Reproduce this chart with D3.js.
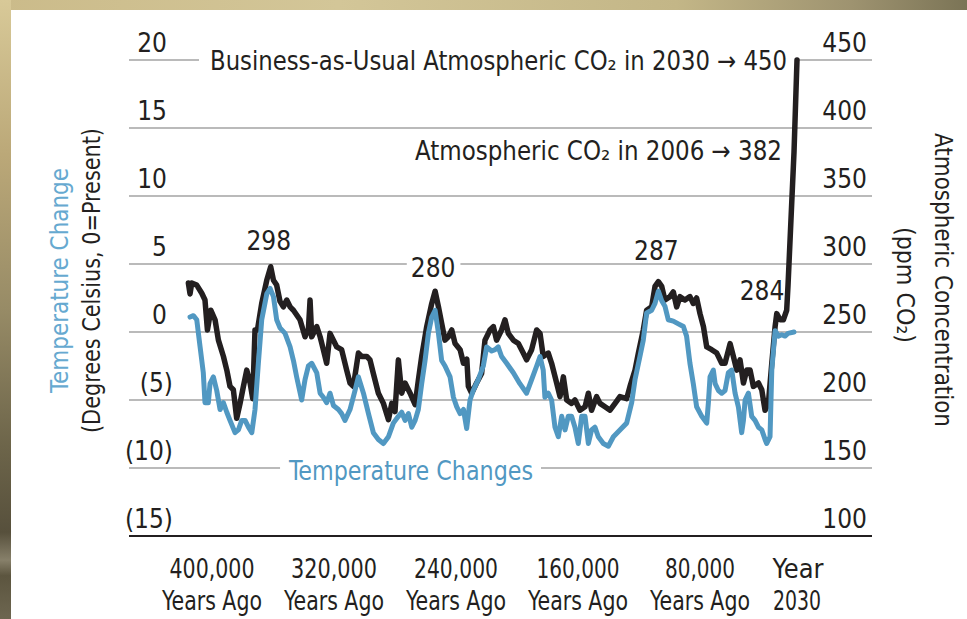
<!DOCTYPE html>
<html>
<head>
<meta charset="utf-8">
<script src="https://cdn.jsdelivr.net/npm/d3@7"></script>
<style>
  html, body { margin: 0; padding: 0; background: #fff; }
  svg { display: block; }
  text { font-family: "Liberation Sans Narrow", "Arial Narrow", "DejaVu Sans Condensed", sans-serif; fill: #231f20; }
</style>
</head>
<body>
<svg id="chart" width="967" height="619"></svg>
<script>
// ---- Data -------------------------------------------------------------
// Time is in thousands of years before 2006 (negative = future).
const timeTicks = [400, 320, 240, 160, 80, -0.024];
const timeTickLabels = [
  ["400,000", "Years Ago"], ["320,000", "Years Ago"], ["240,000", "Years Ago"],
  ["160,000", "Years Ago"], ["80,000", "Years Ago"], ["Year", "2030"]
];
const tempTicks = [20, 15, 10, 5, 0, -5, -10, -15];
const co2Ticks = [450, 400, 350, 300, 250, 200, 150, 100];

// Atmospheric CO2 (ppm): [kyr before present, ppm]
const co2Record = [
  [415.5,286],[414.4,278],[413.3,286],[410.0,284.5],[406.7,278.5],[404.6,273.5],[403.0,251.5],
  [400.8,266],[398.0,259],[395.8,244],[392.5,232],[390.3,222],[388.2,210],[386.0,207.5],
  [383.8,186.5],[381.6,197.5],[379.4,210],[377.2,222],[375.0,212.5],[373.3,201],[371.8,251.5],
  [370.2,251.5],[367.4,271],[364.1,288],[361.5,298],[359.7,288],[357.6,284.5],[355.4,272.5],
  [353.2,268.5],[351.0,273.5],[348.8,268.5],[346.6,266],[342.3,259],[339.0,246.5],[336.8,251.5],
  [335.7,273.5],[334.6,246.5],[331.3,254],[329.1,246.5],[327.0,237],[324.8,227],[322.6,249],
  [320.4,244],[318.2,239],[315.0,237],[311.7,222],[309.5,212.5],[307.3,210],[304.0,234.5],
  [301.8,232],[298.5,232],[296.4,229.5],[294.2,219.5],[290.9,205],[287.6,197.5],[284.3,185.5],
  [282.1,197.5],[280.0,191.5],[277.8,229.5],[275.6,205],[273.4,212.5],[270.1,205],[266.8,196.5],
  [264.7,214.5],[262.5,232],[259.2,254],[255.9,271],[253.7,280],[251.5,268.5],[249.4,256.5],
  [247.2,244],[245.0,246.5],[242.8,251.5],[240.6,241.5],[237.3,237],[235.1,227],[232.9,230],
  [231.9,210],[229.7,205],[226.5,212.5],[223.2,219.5],[221.0,244],[217.7,251.5],[215.5,254],
  [213.4,244],[210.1,251.5],[207.9,259],[205.7,249],[202.4,244],[199.1,241.5],[195.9,234.5],
  [193.7,229.5],[190.4,237],[187.1,251.5],[184.9,249],[182.8,232],[179.5,234.5],[177.3,227],
  [174.0,212.5],[171.8,202.5],[169.6,217],[167.4,200],[164.2,197.5],[162.0,200],[158.7,192.5],
  [155.4,195],[153.2,205],[151.1,192.5],[147.8,202.5],[145.6,197.5],[142.3,195],[139.0,192.5],
  [135.7,197.5],[132.5,202.5],[128.1,201],[125.9,210],[122.6,222],[120.4,234.5],[117.2,251.5],
  [115.0,266],[111.7,268.5],[109.5,283.5],[107.3,287],[105.1,283.5],[103.0,273.5],[99.7,276],
  [97.5,279.5],[95.3,268.5],[93.1,276],[89.9,273.5],[86.6,276],[84.4,271],[82.2,275],
  [80.0,263.5],[76.9,254],[73.9,239],[69.4,237],[64.8,234.5],[60.3,227],[57.3,227],
  [52.7,241.5],[49.7,232],[46.7,222],[43.7,229.5],[40.6,212.5],[37.6,222],[34.6,222],
  [31.6,210],[27.0,212.5],[24.0,207.5],[21.0,192.5],[18.0,197.5],[14.9,227],[11.9,254],
  [10.4,263.5],[7.4,259],[4.4,259],[1.4,266],[0.2,284],[0,382],[-0.024,450]
];

// Temperature change (deg C, 0 = present): [kyr before present, deg C]
const tempRecord = [
  [414.4,1.1],[412.2,1.2],[410.0,0.9],[407.8,-1.1],[405.7,-3.0],[404.6,-5.2],[402.4,-5.2],
  [401.3,-3.8],[399.1,-3.3],[396.9,-4.3],[394.7,-5.7],[392.5,-5.2],[390.3,-5.9],[388.2,-6.5],
  [384.9,-7.4],[382.7,-7.2],[380.5,-6.5],[378.3,-6.5],[376.1,-7.0],[373.9,-7.4],[371.8,-5.7],
  [369.6,-2.3],[367.4,0.9],[364.1,2.8],[361.9,3.2],[359.7,2.6],[357.6,0.9],[355.4,0.3],
  [352.1,-0.1],[348.8,-1.1],[346.6,-2.1],[344.5,-3.3],[341.2,-5.0],[339.0,-3.5],[336.8,-2.5],
  [334.6,-2.3],[331.3,-3.0],[329.1,-4.5],[327.0,-4.8],[324.8,-5.2],[322.6,-4.5],[320.4,-5.4],
  [317.1,-5.7],[315.0,-6.0],[312.8,-6.5],[309.5,-5.7],[306.2,-4.3],[304.0,-3.3],[300.7,-4.5],
  [297.4,-6.0],[294.2,-7.4],[290.9,-7.9],[287.6,-8.2],[284.3,-7.7],[281.1,-6.7],[277.8,-6.2],
  [275.6,-5.9],[273.4,-6.5],[271.2,-6.0],[269.0,-7.0],[266.8,-6.5],[264.7,-5.7],[262.5,-3.8],
  [260.3,-2.1],[258.1,-0.1],[255.9,1.1],[253.7,1.6],[251.5,-0.1],[249.4,-2.1],[247.2,-2.5],
  [243.9,-3.3],[241.7,-4.8],[239.5,-5.5],[237.3,-6.0],[235.1,-5.7],[233.0,-7.1],[230.8,-5.0],
  [228.7,-4.3],[225.4,-3.5],[222.1,-2.5],[219.9,-1.1],[216.6,-1.4],[214.4,-1.3],[212.3,-1.1],
  [210.1,-1.8],[206.8,-2.3],[202.4,-3.0],[198.1,-3.8],[193.7,-4.5],[190.4,-3.5],[187.1,-2.5],
  [184.9,-1.8],[182.8,-2.8],[181.7,-4.8],[179.5,-4.5],[177.3,-5.0],[175.1,-7.0],[172.9,-7.7],
  [170.7,-6.2],[168.5,-7.2],[166.4,-6.2],[164.2,-6.2],[162.0,-7.0],[159.8,-8.2],[157.6,-6.2],
  [155.4,-6.2],[153.2,-8.2],[151.1,-7.2],[148.9,-7.0],[146.7,-7.7],[143.4,-8.2],[140.1,-8.4],
  [136.8,-7.7],[132.5,-7.2],[128.1,-6.7],[124.8,-5.2],[122.6,-3.5],[119.4,-1.8],[117.2,-0.6],
  [115.0,1.4],[111.7,1.6],[109.5,2.1],[107.3,3.0],[105.1,2.3],[103.0,1.9],[100.8,0.9],
  [97.5,0.8],[94.2,0.6],[90.9,0.4],[88.8,-0.3],[86.6,-2.3],[84.4,-3.8],[82.2,-5.5],
  [78.4,-6.2],[73.9,-6.7],[72.4,-5.2],[70.9,-3.3],[67.9,-2.8],[66.3,-3.8],[63.3,-4.3],
  [60.3,-4.5],[57.3,-4.3],[54.3,-3.0],[51.2,-2.8],[48.2,-4.5],[45.2,-5.5],[42.2,-7.4],
  [40.6,-6.5],[39.1,-5.0],[36.1,-4.5],[33.1,-6.2],[30.1,-6.5],[27.0,-7.0],[24.0,-7.2],
  [21.0,-7.9],[19.5,-8.2],[16.5,-7.7],[14.9,-2.8],[11.9,0.1],[8.9,-0.3],[5.9,-0.2],
  [2.9,-0.3],[0.2,-0.1],[0,0]
];

// Peak CO2 values called out above the curve: [kyr before present, ppm]
const co2Peaks = [[361.5, 298], [253.7, 280], [107.3, 287], [0.2, 284]];
// Modern and projected CO2: [kyr before present, ppm, note]
const co2Notes = [
  [-0.024, 450, "Business-as-Usual Atmospheric CO\u2082 in 2030 \u2192 450"],
  [0, 382, "Atmospheric CO\u2082 in 2006 \u2192 382"]
];

// ---- Layout -------------------------------------------------------------
const svg = d3.select("#chart");
const plotLeft = 129, plotRight = 872;
const ink = "#231f20", blue = "#5198c2", titleBlue = "#66a9d0";

const x = d3.scaleLinear()
  .domain([400, 80, 0.2, 0, -0.024])
  .range([212, 700, 788, 794, 797]);
const yT = d3.scaleLinear().domain([-15, 20]).range([536, 60]);
const yC = d3.scaleLinear().domain([100, 450]).range([536, 60]);

// Frame: golden border along the top and left edges
const defs = svg.append("defs");
const gTop = defs.append("linearGradient").attr("id", "topEdge");
[[0, "#cbbb8a"], [0.35, "#d3c698"], [0.7, "#c3b687"], [0.88, "#9e9370"], [1, "#7b7456"]]
  .forEach(([o, c]) => gTop.append("stop").attr("offset", o).attr("stop-color", c));
const gLeft = defs.append("linearGradient").attr("id", "leftEdge")
  .attr("x1", 0).attr("y1", 0).attr("x2", 0).attr("y2", 1);
[[0, "#d8c998"], [0.25, "#bba878"], [0.5, "#978b66"], [0.72, "#6d654a"], [0.86, "#57503c"],
 [0.905, "#87806a"], [0.93, "#5c553f"], [1, "#6d6650"]]
  .forEach(([o, c]) => gLeft.append("stop").attr("offset", o).attr("stop-color", c));
svg.append("rect").attr("width", 967).attr("height", 619).attr("fill", "#fff");
svg.append("rect").attr("width", 967).attr("height", 10).attr("fill", "url(#topEdge)");
svg.append("rect").attr("width", 11).attr("height", 619).attr("fill", "url(#leftEdge)");

const gGrid = svg.append("g");
const gMask = svg.append("g");
const gLines = svg.append("g");
const gText = svg.append("g");

// Horizontal gridlines (shared by both vertical scales)
gGrid.selectAll("line").data(tempTicks).join("line")
  .attr("x1", plotLeft).attr("x2", plotRight)
  .attr("y1", d => yT(d)).attr("y2", d => yT(d))
  .attr("stroke", d => d === -15 ? ink : "#a3a3a3")
  .attr("stroke-width", d => d === -15 ? 2 : 1.6);

// Left tick labels: negatives shown in parentheses
gText.selectAll("text.lt").data(tempTicks).join("text").attr("class", "lt")
  .attr("x", d => d < 0 ? 173 : 167).attr("y", d => yT(d) - 8)
  .attr("text-anchor", "end").attr("font-size", 26)
  .text(d => d < 0 ? `(${-d})` : d);

// Right tick labels
gText.selectAll("text.rt").data(co2Ticks).join("text").attr("class", "rt")
  .attr("x", 867).attr("y", d => yC(d) - 8)
  .attr("text-anchor", "end").attr("font-size", 26)
  .text(d => d);

// Time axis labels (two lines each), fitted to the condensed face
const fitWidth = { "400,000": 85, "320,000": 86, "240,000": 84, "160,000": 83,
  "80,000": 70, "Years Ago": 100, "Year": 51, "2030": 48 };
[0, 1].forEach(line => {
  gText.selectAll(`text.xt${line}`).data(timeTicks).join("text").attr("class", `xt${line}`)
    .attr("x", d => x(d) + (line === 0 && d < 0 ? 1 : 0))
    .attr("y", yT(-15) + (line === 0 ? 42 : 74))
    .attr("text-anchor", "middle").attr("font-size", 26)
    .attr("textLength", (d, i) => fitWidth[timeTickLabels[i][line]])
    .attr("lengthAdjust", "spacingAndGlyphs")
    .text((d, i) => timeTickLabels[i][line]);
});

// Axis titles
const leftMid = 280.5;
gText.append("text")
  .attr("transform", `translate(68,${leftMid}) rotate(-90)`)
  .attr("text-anchor", "middle").attr("font-size", 25)
  .attr("textLength", 225).attr("lengthAdjust", "spacingAndGlyphs")
  .style("fill", titleBlue).text("Temperature Change");
gText.append("text")
  .attr("transform", `translate(100,${leftMid}) rotate(-90)`)
  .attr("text-anchor", "middle").attr("font-size", 25)
  .attr("textLength", 305).attr("lengthAdjust", "spacingAndGlyphs")
  .text("(Degrees Celsius, 0=Present)");
gText.append("text")
  .attr("transform", "translate(935,280) rotate(90)")
  .attr("text-anchor", "middle").attr("font-size", 25)
  .attr("textLength", 294).attr("lengthAdjust", "spacingAndGlyphs")
  .text("Atmospheric Concentration");
gText.append("text")
  .attr("transform", "translate(897,285) rotate(90)")
  .attr("text-anchor", "middle").attr("font-size", 25)
  .attr("textLength", 116).attr("lengthAdjust", "spacingAndGlyphs")
  .text("(ppm CO\u2082)");

// White backing that interrupts a gridline behind a label
function backing(node, padL, padR) {
  const b = node.getBBox();
  gMask.append("rect")
    .attr("x", b.x - padL).attr("y", b.y)
    .attr("width", b.width + padL + padR).attr("height", b.height)
    .attr("fill", "#fff");
}

// Series label for the temperature curve
const tLabel = gText.append("text")
  .attr("x", 289).attr("y", yT(-10) + 12).attr("font-size", 26)
  .attr("textLength", 244).attr("lengthAdjust", "spacingAndGlyphs")
  .style("fill", blue).text("Temperature Changes");
backing(tLabel.node(), 8, 8);

// Curves
const co2Line = d3.line().x(d => x(d[0])).y(d => yC(d[1]));
const tempLine = d3.line().x(d => x(d[0])).y(d => yT(d[1]));
gLines.append("path").datum(co2Record).attr("d", co2Line)
  .attr("fill", "none").attr("stroke", ink).attr("stroke-width", 5.5)
  .attr("stroke-linejoin", "round").attr("stroke-linecap", "round");
gLines.append("path").datum(tempRecord).attr("d", tempLine)
  .attr("fill", "none").attr("stroke", blue).attr("stroke-width", 5)
  .attr("stroke-linejoin", "round").attr("stroke-linecap", "round");

// Peak value callouts
const peakOffsets = [[-2, -17], [-2, -14], [-2, -22], [-26, 14]];
co2Peaks.forEach((p, i) => {
  const t = gText.append("text")
    .attr("x", x(p[0]) + peakOffsets[i][0]).attr("y", yC(p[1]) + peakOffsets[i][1])
    .attr("text-anchor", "middle").attr("font-size", 26).text(p[1]);
  if (i === 1) backing(t.node(), 4, 5);
});

// Modern / projected CO2 notes, arrowed toward the curve
const noteOffsets = [[-10, 10, 577], [-12, 7.5, 367]];
co2Notes.forEach((n, i) => {
  const t = gText.append("text")
    .attr("x", x(n[0]) + noteOffsets[i][0]).attr("y", yC(n[1]) + noteOffsets[i][1])
    .attr("text-anchor", "end").attr("font-size", 26)
    .attr("textLength", noteOffsets[i][2]).attr("lengthAdjust", "spacingAndGlyphs")
    .text(n[2]);
  if (i === 0) backing(t.node(), 11, 10);
});
</script>
</body>
</html>
